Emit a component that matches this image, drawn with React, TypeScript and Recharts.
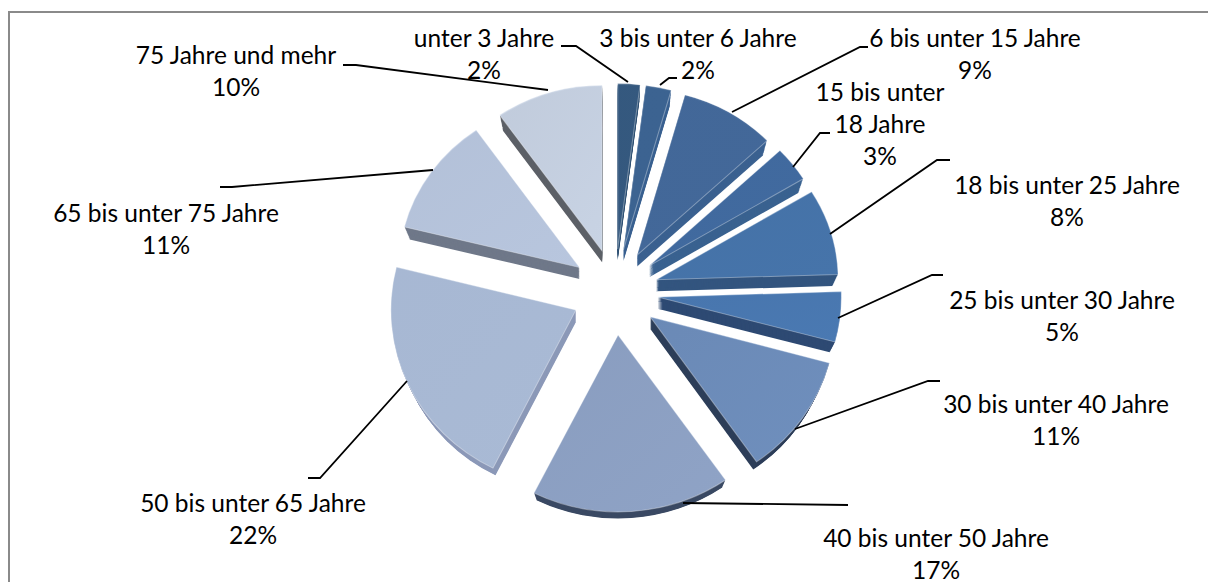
import React from 'react';
import { PieChart, Pie, Sector } from 'recharts';

// Altersgruppen und Anteile in Prozent (aus den Winkeln geschaetzt, gerundet = Beschriftung)
const categories = [
  'unter 3 Jahre',
  '3 bis unter 6 Jahre',
  '6 bis unter 15 Jahre',
  '15 bis unter 18 Jahre',
  '18 bis unter 25 Jahre',
  '25 bis unter 30 Jahre',
  '30 bis unter 40 Jahre',
  '40 bis unter 50 Jahre',
  '50 bis unter 65 Jahre',
  '65 bis unter 75 Jahre',
  '75 Jahre und mehr',
];
const shares = [2.0, 2.3, 8.6, 3.4, 8.2, 4.7, 11.1, 17.1, 21.5, 11.4, 9.7];

const topColors = ['#35597f', '#3c6391', '#436899', '#416a9f', '#4674aa', '#4a79b2', '#6f8fbd', '#8fa3c6', '#a9bad5', '#b8c6de', '#c8d3e4'];
const sideColors = ['#2f5074', '#3a6190', '#3b6190', '#3a6290', '#33557f', '#2e4a73', '#2e3f5a', '#3b4a64', '#8c99b8', '#6f7889', '#5d6068'];

// Beschriftung: Zeilen, Mitte x, erste Zeile y
const labelLines = [
  ['unter 3 Jahre', '2%'],
  ['3 bis unter 6 Jahre', '2%'],
  ['6 bis unter 15 Jahre', '9%'],
  ['15 bis unter', '18 Jahre', '3%'],
  ['18 bis unter 25 Jahre', '8%'],
  ['25 bis unter 30 Jahre', '5%'],
  ['30 bis unter 40 Jahre', '11%'],
  ['40 bis unter 50 Jahre', '17%'],
  ['50 bis unter 65 Jahre', '22%'],
  ['65 bis unter 75 Jahre', '11%'],
  ['75 Jahre und mehr', '10%'],
];
const labelX = [484, 698, 975, 880, 1067, 1062, 1056, 936, 253, 166, 236];
const labelY = [47, 47, 47, 101, 194, 309, 413, 547, 512, 222, 64];
const lineHeight = 32;

// Führungslinien
const leaders = [
  '628,82 576,46 561,46',
  '660,85 669,78 677,78',
  '732,112 860,47 868,47',
  '793,167 820,133 830,133',
  '830,234 937,160 950,160',
  '838,318 932,275 943,275',
  '795,429 928,381 940,381',
  '683,503 848,505',
  '407,381 320,478 308,478',
  '433,170 232,187 220,187',
  '548,90 356,65 343,65',
];

const rows = categories.map((name, i) => ({ name, value: shares[i], i }));

const WIDTH = 1208;
const HEIGHT = 582;
const EXPLODE_X = 43;
const EXPLODE_Y = 43;
const DEPTH = 12;

const renderSector = (props: any) => {
  const { cx, cy, outerRadius, startAngle, endAngle, i } = props;
  const mid = (((startAngle + endAngle) / 2) * Math.PI) / 180;
  const x = cx + EXPLODE_X * Math.cos(mid);
  const y = cy - EXPLODE_Y * Math.sin(mid);
  // perspektive: vorne (unten) groesser als hinten (oben)
  const s = Math.sin(mid);
  const scaleX = 1.035 - 0.025 * s;
  const scaleY = s > 0 ? 0.965 - 0.03 * s : Math.min(1, 0.965 - 0.085 * s);
  const layers = [];
  for (let d = DEPTH; d > 0; d--) {
    layers.push(
      <Sector
        key={d}
        cx={x}
        cy={y + d}
        innerRadius={0}
        outerRadius={outerRadius - d * 0.45}
        startAngle={startAngle}
        endAngle={endAngle}
        fill={sideColors[i]}
        stroke="none"
      />
    );
  }
  return (
    <g transform={`translate(${x} ${y}) scale(${scaleX} ${scaleY}) translate(${-x} ${-y})`}>
      {layers}
      <Sector
        cx={x}
        cy={y}
        innerRadius={0}
        outerRadius={outerRadius}
        startAngle={startAngle}
        endAngle={endAngle}
        fill={`url(#top${i})`}
        stroke="#ffffff"
        strokeOpacity={0.35}
        strokeWidth={1}
      />
    </g>
  );
};

const renderLabel = (props: any) => {
  const i = props.i ?? props.index;
  return (
    <g key={i}>
      <polyline points={leaders[i]} fill="none" stroke="#000000" strokeWidth={1.8} />
      <text textAnchor="middle" fontFamily="Lato" fontSize={24.5} fill="#000000">
        {labelLines[i].map((line, n) => (
          <tspan key={n} x={labelX[i]} y={labelY[i] + n * lineHeight}>
            {line}
          </tspan>
        ))}
      </text>
    </g>
  );
};

export default function App() {
  return (
    <div style={{ position: 'fixed', left: 0, top: 0, width: WIDTH, height: HEIGHT, background: '#fff' }}>
      <div
        style={{
          position: 'absolute',
          left: 8,
          top: 11,
          width: WIDTH,
          height: HEIGHT,
          borderLeft: '2px solid #8a8a8a',
          borderTop: '2px solid #8a8a8a',
          boxSizing: 'border-box',
        }}
      />
      <div style={{ position: 'absolute', left: 0, top: 0, width: WIDTH, height: HEIGHT, overflow: 'hidden' }}>
        <PieChart width={WIDTH} height={HEIGHT} margin={{ top: 0, right: 0, bottom: 0, left: 0 }}>
          <defs>
            {topColors.map((c, i) => (
              <linearGradient key={i} id={`top${i}`} x1="0" y1="0" x2="1" y2="1">
                <stop offset="0%" stopColor={c} stopOpacity={0.93} />
                <stop offset="100%" stopColor={c} />
              </linearGradient>
            ))}
          </defs>
          <Pie
            data={rows}
            dataKey="value"
            nameKey="name"
            cx={615}
            cy={292}
            innerRadius={0}
            outerRadius={177}
            startAngle={90}
            endAngle={-270}
            stroke="none"
            shape={renderSector}
            label={renderLabel}
            labelLine={false}
            isAnimationActive={false}
          />
        </PieChart>
      </div>
    </div>
  );
}
